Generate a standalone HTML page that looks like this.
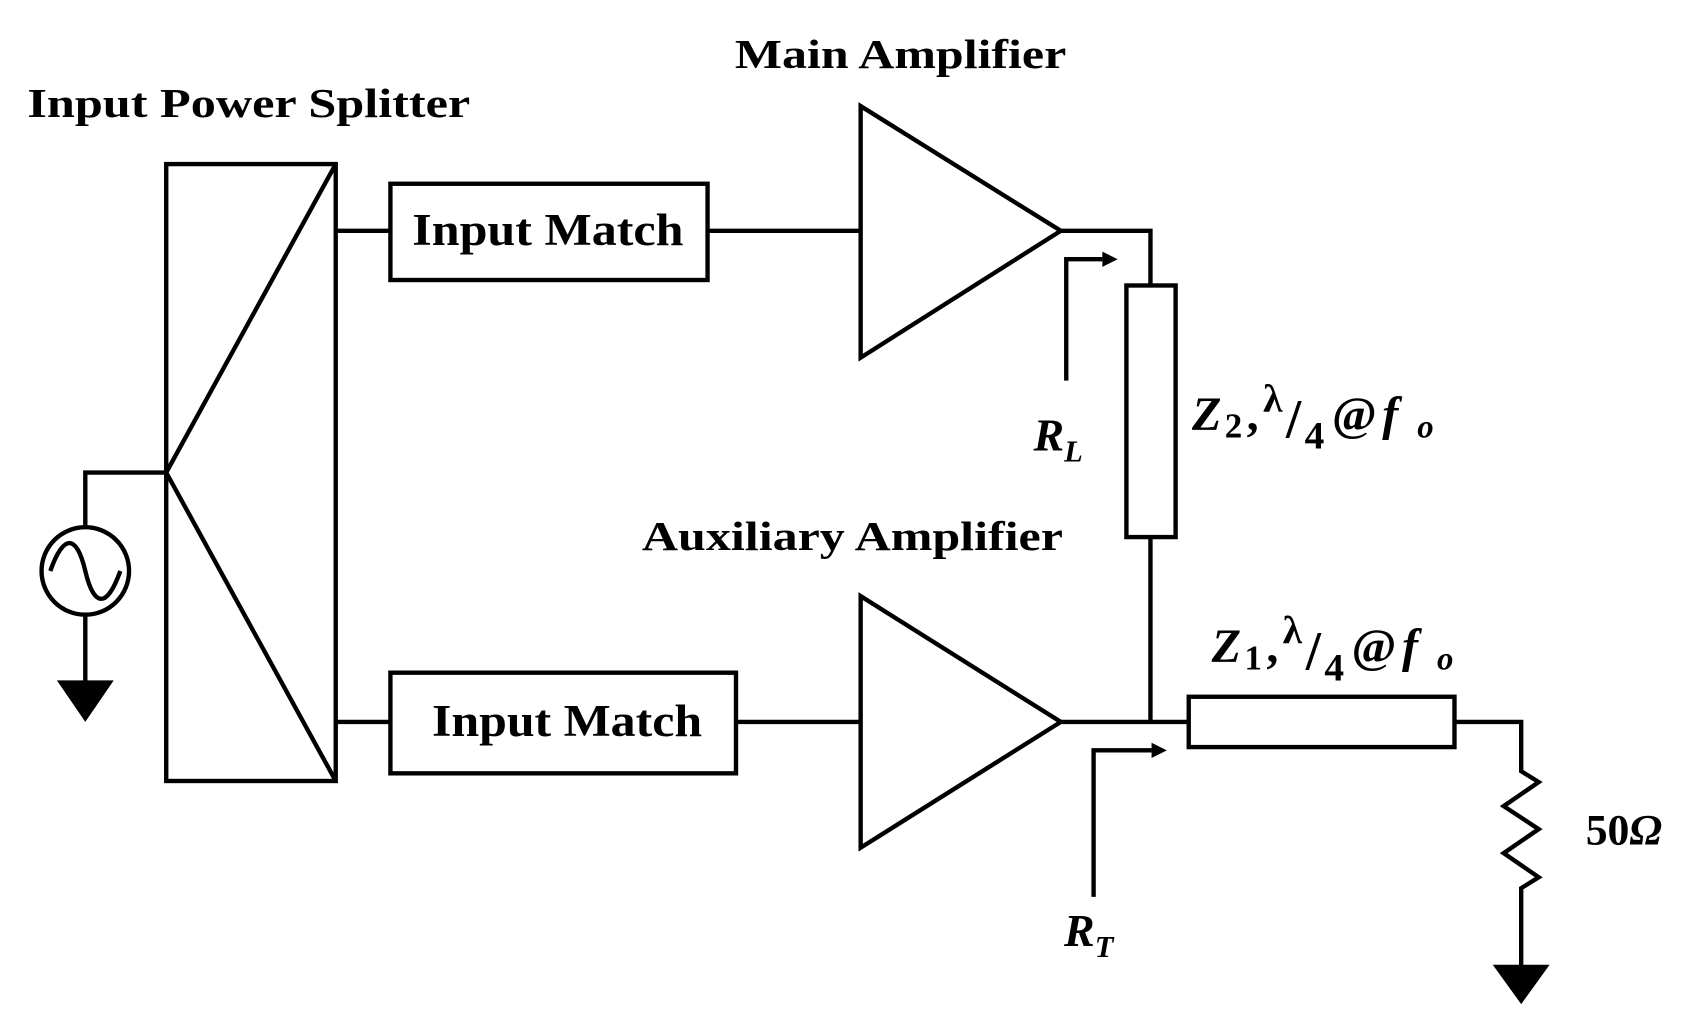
<!DOCTYPE html>
<html><head><meta charset="utf-8"><style>
html,body{margin:0;padding:0;background:#fff;}
svg{display:block;}
text{font-family:"Liberation Serif",serif;font-weight:bold;fill:#000;}
</style></head><body>
<svg width="1706" height="1026" viewBox="0 0 1560 938" preserveAspectRatio="none" xmlns="http://www.w3.org/2000/svg">
<g fill="none" stroke="#000" stroke-width="4">
<rect x="152" y="150" width="155" height="564"/>
<polyline points="307,150 152,432 307,714"/>
<polyline points="152,432 78,432 78,482"/>
<circle cx="78" cy="522" r="40"/>
<path d="M46,522 C58,488 70,488 78,522 C86,556 98,556 110,522"/>
<line x1="78" y1="562" x2="78" y2="624"/>
<line x1="307" y1="211" x2="357" y2="211"/>
<rect x="357" y="168" width="290" height="88"/>
<line x1="647" y1="211" x2="787" y2="211"/>
<polygon points="787,97 787,327 970,211"/>
<polyline points="970,211 1052,211 1052,261"/>
<rect x="1030" y="261" width="45" height="230"/>
<line x1="1052" y1="491" x2="1052" y2="660"/>
<polyline points="975,348 975,237 1008,237"/>
<line x1="307" y1="660" x2="357" y2="660"/>
<rect x="357" y="615" width="316" height="92"/>
<line x1="673" y1="660" x2="787" y2="660"/>
<polygon points="787,545 787,775 970,660"/>
<line x1="970" y1="660" x2="1087" y2="660"/>
<rect x="1087" y="637" width="243" height="46"/>
<polyline points="1330,660 1391,660 1391,705 1407,715 1375,737 1407,758 1375,780 1407,802 1391,812 1391,884"/>
<polyline points="1000,820 1000,686 1053,686"/>
</g>
<g fill="#000">
<polygon points="52,622 104,622 78,660"/>
<polygon points="1365,882 1417,882 1391,918"/>
<polygon points="1008,230 1022,237 1008,244"/>
<polygon points="1053,679 1067,686 1053,693"/>
</g>
<text x="25" y="107" font-size="38" textLength="405" lengthAdjust="spacingAndGlyphs">Input Power Splitter</text>
<text x="672" y="62" font-size="38" textLength="303" lengthAdjust="spacingAndGlyphs">Main Amplifier</text>
<text x="587" y="503" font-size="38" textLength="385" lengthAdjust="spacingAndGlyphs">Auxiliary Amplifier</text>
<text x="377" y="224" font-size="42" textLength="248" lengthAdjust="spacingAndGlyphs">Input Match</text>
<text x="395" y="673" font-size="42" textLength="247" lengthAdjust="spacingAndGlyphs">Input Match</text>
<text x="945" y="412" font-size="42" font-style="italic">R<tspan font-size="28" dy="10">L</tspan></text>
<text x="973" y="865" font-size="42" font-style="italic">R<tspan font-size="28" dy="10">T</tspan></text>
<g font-size="44">
<text x="1090" y="393" font-style="italic">Z</text>
<text x="1120" y="400" font-size="32">2</text>
<text x="1140" y="393">,</text>
<text x="1155" y="376" font-size="36">λ</text>
<text x="1176" y="400" font-size="50" font-weight="normal">/</text>
<text x="1193" y="410" font-size="36">4</text>
<text x="1218" y="393">@</text>
<text x="1264" y="393" font-style="italic">f</text>
<text x="1296" y="400" font-size="30" font-style="italic">o</text>
<text x="1108" y="605" font-style="italic">Z</text>
<text x="1138" y="612" font-size="32">1</text>
<text x="1158" y="605">,</text>
<text x="1173" y="588" font-size="36">λ</text>
<text x="1194" y="612" font-size="50" font-weight="normal">/</text>
<text x="1211" y="622" font-size="36">4</text>
<text x="1236" y="605">@</text>
<text x="1282" y="605" font-style="italic">f</text>
<text x="1314" y="612" font-size="30" font-style="italic">o</text>
</g>
<text x="1450" y="772" font-size="40">50<tspan font-style="italic">Ω</tspan></text>
</svg>
</body></html>
